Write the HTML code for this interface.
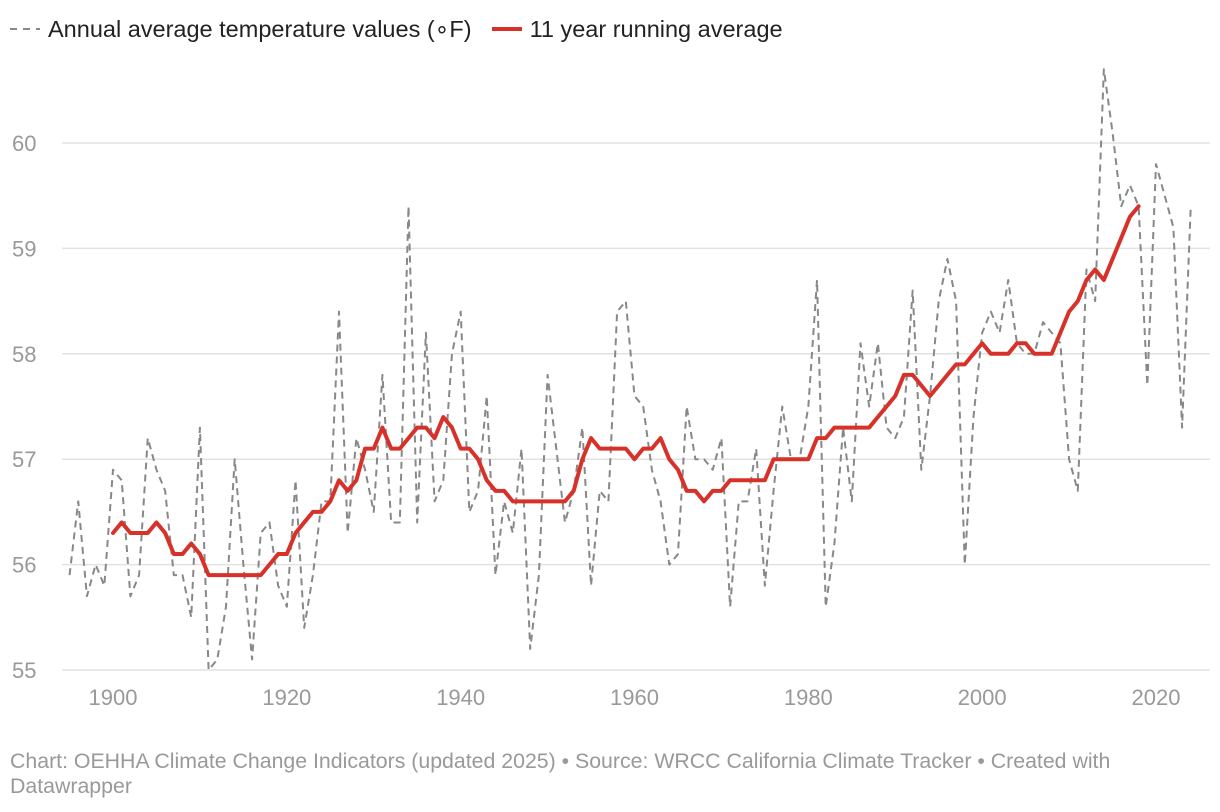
<!DOCTYPE html>
<html><head><meta charset="utf-8"><style>
body{margin:0;background:#fff;font-family:"Liberation Sans",sans-serif;}
#wrap{position:relative;width:1220px;height:812px;overflow:hidden;}
.legend{position:absolute;top:15px;left:10px;font-size:23.5px;color:#222;display:flex;align-items:center;}
.footer{position:absolute;left:10px;top:749px;font-size:21.3px;line-height:25px;color:#999;width:1180px;}
</style></head><body>
<div id="wrap">
<div class="legend">
  <span style="display:flex;align-items:center;">
    <svg width="30" height="6"><line x1="0" y1="3" x2="30" y2="3" stroke="#888" stroke-width="2" stroke-dasharray="7,6"/></svg>
    <span style="margin-left:8px">Annual average temperature values (∘F)</span></span>
  <span style="display:flex;align-items:center;margin-left:20px;">
    <svg width="30" height="6"><line x1="0" y1="3" x2="30" y2="3" stroke="#d7322a" stroke-width="4"/></svg>
    <span style="margin-left:8px">11 year running average</span></span>
</div>
<svg id="chart" width="1220" height="812" style="position:absolute;left:0;top:0"></svg>
<div class="footer">Chart: OEHHA Climate Change Indicators (updated 2025) • Source: WRCC California Climate Tracker • Created with Datawrapper</div>
</div>
<script>
const annualStartYear = 1895;
const annualValues = [55.9,56.6,55.7,56.0,55.8,56.9,56.8,55.7,55.9,57.2,56.9,56.7,55.9,55.9,55.5,57.3,55.0,55.1,55.6,57.0,56.0,55.1,56.3,56.4,55.8,55.6,56.8,55.4,55.9,56.6,56.6,58.4,56.3,57.2,56.9,56.5,57.8,56.4,56.4,59.4,56.4,58.2,56.6,56.8,58.0,58.4,56.5,56.7,57.6,55.9,56.6,56.3,57.1,55.2,55.9,57.8,57.1,56.4,56.7,57.3,55.8,56.7,56.6,58.4,58.5,57.6,57.5,56.9,56.6,56.0,56.1,57.5,57.0,57.0,56.9,57.2,55.6,56.6,56.6,57.1,55.8,56.7,57.5,57.0,57.0,57.5,58.7,55.6,56.2,57.3,56.6,58.1,57.5,58.1,57.3,57.2,57.4,58.6,56.9,57.6,58.5,58.9,58.5,56.0,57.4,58.2,58.4,58.2,58.7,58.1,58.0,58.0,58.3,58.2,58.1,57.0,56.7,58.8,58.5,60.7,60.1,59.4,59.6,59.4,57.7,59.8,59.5,59.2,57.3,59.4];
const avgStartYear = 1900;
const avgValues = [56.3,56.4,56.3,56.3,56.3,56.4,56.3,56.1,56.1,56.2,56.1,55.9,55.9,55.9,55.9,55.9,55.9,55.9,56.0,56.1,56.1,56.3,56.4,56.5,56.5,56.6,56.8,56.7,56.8,57.1,57.1,57.3,57.1,57.1,57.2,57.3,57.3,57.2,57.4,57.3,57.1,57.1,57.0,56.8,56.7,56.7,56.6,56.6,56.6,56.6,56.6,56.6,56.6,56.7,57.0,57.2,57.1,57.1,57.1,57.1,57.0,57.1,57.1,57.2,57.0,56.9,56.7,56.7,56.6,56.7,56.7,56.8,56.8,56.8,56.8,56.8,57.0,57.0,57.0,57.0,57.0,57.2,57.2,57.3,57.3,57.3,57.3,57.3,57.4,57.5,57.6,57.8,57.8,57.7,57.6,57.7,57.8,57.9,57.9,58.0,58.1,58.0,58.0,58.0,58.1,58.1,58.0,58.0,58.0,58.2,58.4,58.5,58.7,58.8,58.7,58.9,59.1,59.3,59.4];
const yTicks = [55,56,57,58,59,60];
const xTicks = [1900,1920,1940,1960,1980,2000,2020];

const NS="http://www.w3.org/2000/svg";
const svg=document.getElementById('chart');
const xS=y=>113+(y-1900)*(1156-113)/120;
const yS=v=>670-(v-55)*(670-143)/5;
function mk(t,a){const e=document.createElementNS(NS,t);for(const k in a)e.setAttribute(k,a[k]);svg.appendChild(e);return e;}
yTicks.forEach(t=>{
  const l=mk('line',{x1:62,x2:1210,y1:yS(t),y2:yS(t),stroke:'#e2e2e2','stroke-width':1.5});
  
  
  const tx=mk('text',{x:12,y:yS(t)+8,'font-size':22,fill:'#999','font-family':'Liberation Sans, sans-serif'});
  tx.textContent=t;
  
  
});
xTicks.forEach(t=>{
  const tx=mk('text',{x:xS(t),y:705,'font-size':22,fill:'#999','text-anchor':'middle','font-family':'Liberation Sans, sans-serif'});
  tx.textContent=t;
  
  
});
const p1=mk('polyline',{points:annualValues.map((v,i)=>xS(annualStartYear+i)+','+yS(v)).join(' '),fill:'none',stroke:'#888','stroke-width':2,'stroke-dasharray':'7,5','stroke-linejoin':'round'});


const p2=mk('polyline',{points:avgValues.map((v,i)=>xS(avgStartYear+i)+','+yS(v)).join(' '),fill:'none',stroke:'#d7322a','stroke-width':4,'stroke-linejoin':'round','stroke-linecap':'round'});


</script>
</body></html>
